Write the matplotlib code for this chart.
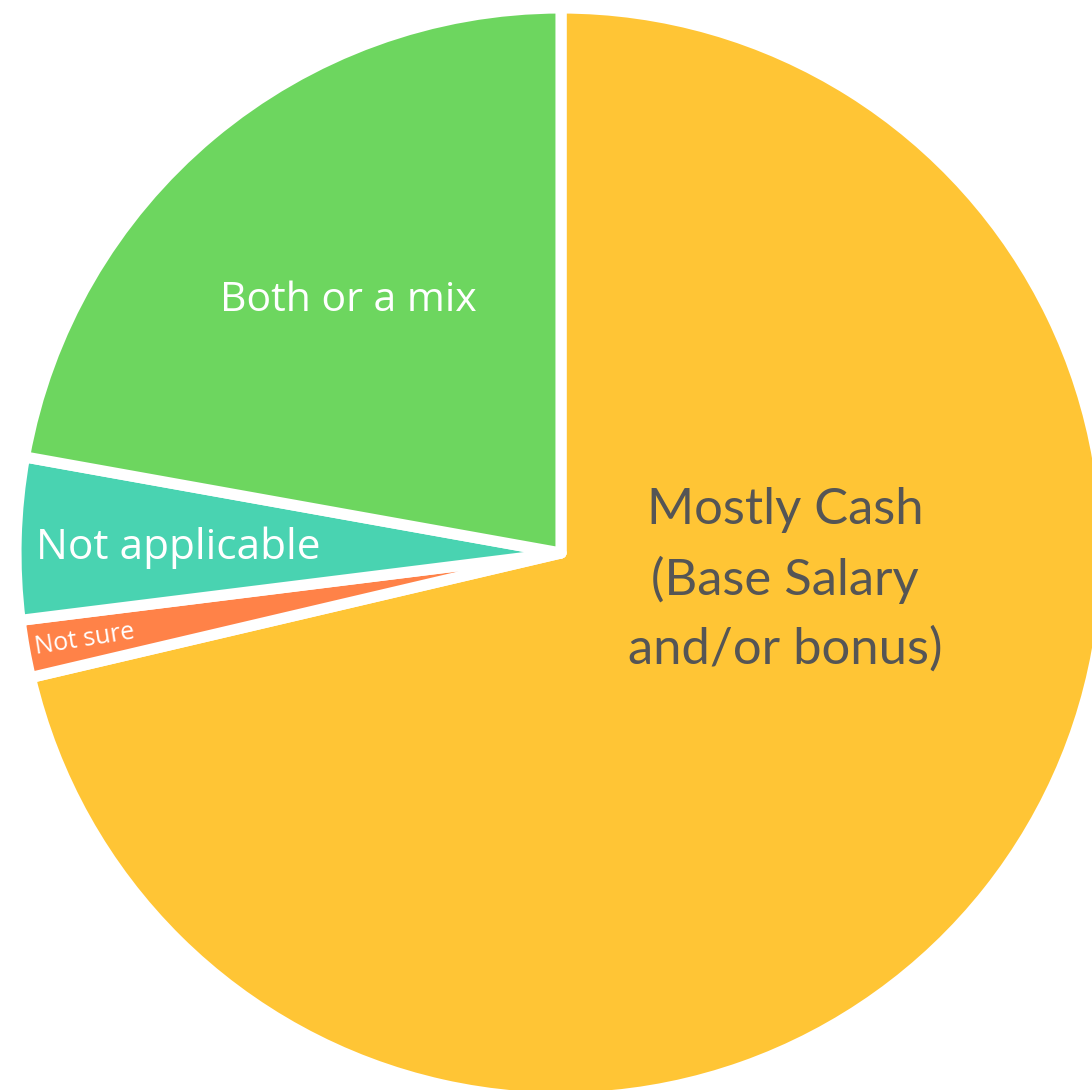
import matplotlib
matplotlib.use('Agg')
import matplotlib.pyplot as plt

#---------------------- DATA
labels = ["Mostly Cash\n(Base Salary\nand/or bonus)", "Not sure", "Not applicable", "Both or a mix"]
values = [71.4, 1.7, 4.8, 22.2]
colors = ['#FFC535', '#FF8248', '#49D3B1', '#6DD65F']

W, H = 1092, 1090

fig = plt.figure(figsize=(W/100., H/100.), dpi=100)
ax = fig.add_axes([0, 0, 1, 1])

# pie centre / radius in pixel units (y measured from bottom)
cx, cy, r = 561, H - 553, 545

wedges, _ = ax.pie(values, colors=colors, startangle=90, counterclock=False,
                   center=(cx, cy), radius=r,
                   wedgeprops=dict(edgecolor='white', linewidth=8, joinstyle='round'))

ax.set_xlim(0, W)
ax.set_ylim(0, H)
ax.set_aspect('equal')
ax.axis('off')

#---------------------- LABELS
ax.text(785, H - 580, labels[0], ha='center', va='center', fontsize=36.5,
        family='Lato', color='#555555', linespacing=1.58)
ax.text(348, H - 301, labels[3], ha='center', va='center', fontsize=29.5,
        family='Open Sans', color='white')
ax.text(178, H - 548, labels[2], ha='center', va='center', fontsize=30.5,
        family='Open Sans', color='white')
ax.text(85, H - 640, labels[1], ha='center', va='center', fontsize=18,
        family='Open Sans', color='white', rotation=9)

plt.savefig('out.png', dpi=100)
